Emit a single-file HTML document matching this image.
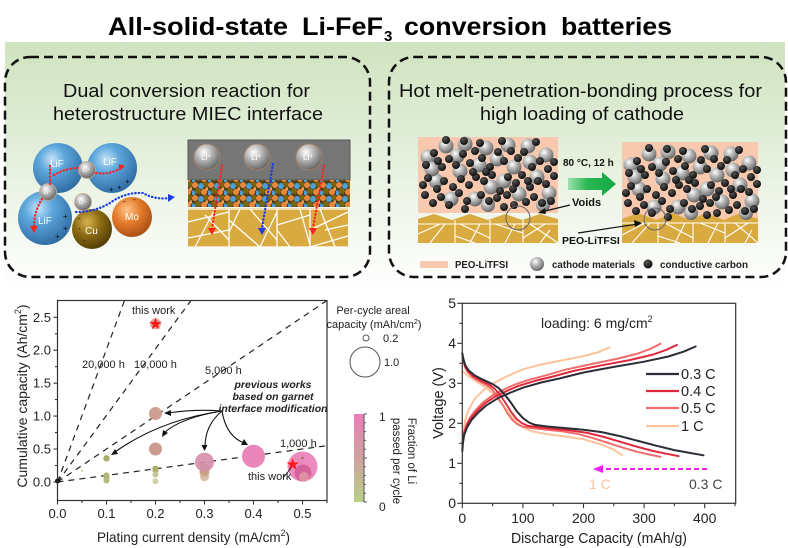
<!DOCTYPE html>
<html><head><meta charset="utf-8"><style>
html,body{margin:0;padding:0;background:#fff;}
svg{display:block;font-family:"Liberation Sans",Arial,sans-serif;}
</style></head><body>
<svg width="788" height="548" viewBox="0 0 788 548" xmlns="http://www.w3.org/2000/svg">
<defs>
<linearGradient id="bg" x1="0" y1="0" x2="0" y2="1"><stop offset="0" stop-color="#cfe3bf"/><stop offset="0.3" stop-color="#dcebd2"/><stop offset="0.65" stop-color="#eef5e9"/><stop offset="1" stop-color="#ffffff"/></linearGradient>
<radialGradient id="gBlue" cx="0.38" cy="0.32" r="0.75"><stop offset="0" stop-color="#c4e3f8"/><stop offset="0.35" stop-color="#5da7dc"/><stop offset="1" stop-color="#2a669e"/></radialGradient>
<radialGradient id="gGrey" cx="0.38" cy="0.32" r="0.75"><stop offset="0" stop-color="#ffffff"/><stop offset="0.4" stop-color="#b8b8b8"/><stop offset="1" stop-color="#5a5a5a"/></radialGradient>
<radialGradient id="gCu" cx="0.38" cy="0.32" r="0.75"><stop offset="0" stop-color="#d8b44e"/><stop offset="0.45" stop-color="#8c6b12"/><stop offset="1" stop-color="#4a3705"/></radialGradient>
<radialGradient id="gMo" cx="0.38" cy="0.32" r="0.75"><stop offset="0" stop-color="#ffc489"/><stop offset="0.45" stop-color="#e47c2c"/><stop offset="1" stop-color="#a24a10"/></radialGradient>
<radialGradient id="gBlk" cx="0.38" cy="0.32" r="0.75"><stop offset="0" stop-color="#555"/><stop offset="1" stop-color="#050505"/></radialGradient>
<linearGradient id="cbar" x1="0" y1="0" x2="0" y2="1"><stop offset="0" stop-color="#ec7db8"/><stop offset="0.5" stop-color="#cfa2a0"/><stop offset="1" stop-color="#b8cf88"/></linearGradient>
<linearGradient id="garrow" x1="0" y1="0" x2="1" y2="0"><stop offset="0" stop-color="#9fe0ae"/><stop offset="0.4" stop-color="#2bb854"/><stop offset="1" stop-color="#16a843"/></linearGradient>
<pattern id="mix" width="16" height="13" patternUnits="userSpaceOnUse">
<rect width="16" height="13" fill="#4d3f18"/>
<circle cx="3" cy="3" r="3" fill="#e8873a"/><circle cx="9" cy="4" r="3" fill="#4b9fd6"/><circle cx="14" cy="2" r="3" fill="#7a6512"/>
<circle cx="6" cy="9" r="3" fill="#7a6512"/><circle cx="12" cy="10" r="3" fill="#e8873a"/><circle cx="1" cy="11" r="2.5" fill="#4b9fd6"/><circle cx="15" cy="7" r="1.8" fill="#f09a50"/>
</pattern>
<path id="star" d="M0,-6.5 L1.53,-2.1 L6.18,-2.01 L2.47,0.8 L3.82,5.26 L0,2.6 L-3.82,5.26 L-2.47,0.8 L-6.18,-2.01 L-1.53,-2.1 Z" fill="#ff1a1a"/>
<g id="parts">
<g fill="url(#gGrey)">
<circle cx="10" cy="20" r="7.5"/><circle cx="28" cy="9" r="7.5"/><circle cx="47" cy="7" r="7.5"/><circle cx="68" cy="11" r="7.5"/><circle cx="90" cy="8" r="7.5"/><circle cx="110" cy="9" r="7.5"/><circle cx="128" cy="18" r="7.5"/><circle cx="18" cy="44" r="7.5"/><circle cx="42" cy="34" r="7.5"/><circle cx="61" cy="28" r="7.5"/><circle cx="96" cy="30" r="7.5"/><circle cx="119" cy="40" r="7.5"/><circle cx="131" cy="56" r="7.5"/><circle cx="33" cy="62" r="7.5"/><circle cx="73" cy="50" r="7.5"/><circle cx="101" cy="57" r="7.5"/><circle cx="57" cy="62" r="7.5"/><circle cx="86" cy="44" r="7.5"/><circle cx="14" cy="32" r="7.5"/><circle cx="79" cy="22" r="7.5"/><circle cx="112" cy="25" r="7.5"/><circle cx="39" cy="19" r="7.5"/><circle cx="125" cy="68" r="7"/><circle cx="70" cy="68" r="7"/>
</g>
<g fill="url(#gBlk)">
<circle cx="8" cy="28" r="4"/><circle cx="16" cy="16" r="4"/><circle cx="24" cy="30" r="4"/><circle cx="31" cy="22" r="4"/><circle cx="38" cy="28" r="4"/><circle cx="45" cy="17" r="4"/><circle cx="52" cy="26" r="4"/><circle cx="57" cy="14" r="4"/><circle cx="64" cy="21" r="4"/><circle cx="72" cy="30" r="4"/><circle cx="80" cy="15" r="4"/><circle cx="86" cy="24" r="4"/><circle cx="93" cy="14" r="4"/><circle cx="100" cy="21" r="4"/><circle cx="106" cy="15" r="4"/><circle cx="114" cy="30" r="4"/><circle cx="122" cy="24" r="4"/><circle cx="130" cy="32" r="4"/><circle cx="10" cy="41" r="4"/><circle cx="19" cy="52" r="4"/><circle cx="26" cy="44" r="4"/><circle cx="35" cy="50" r="4"/><circle cx="43" cy="42" r="4"/><circle cx="51" cy="48" r="4"/><circle cx="58" cy="40" r="4"/><circle cx="66" cy="44" r="4"/><circle cx="74" cy="38" r="4"/><circle cx="82" cy="54" r="4"/><circle cx="90" cy="40" r="4"/><circle cx="98" cy="46" r="4"/><circle cx="104" cy="38" r="4"/><circle cx="112" cy="50" r="4"/><circle cx="120" cy="44" r="4"/><circle cx="128" cy="47" r="4"/><circle cx="136" cy="39" r="4"/><circle cx="7" cy="58" r="4"/><circle cx="15" cy="66" r="4"/><circle cx="23" cy="60" r="4"/><circle cx="31" cy="68" r="4"/><circle cx="41" cy="56" r="4"/><circle cx="49" cy="64" r="4"/><circle cx="63" cy="58" r="4"/><circle cx="71" cy="64" r="4"/><circle cx="79" cy="61" r="4"/><circle cx="89" cy="58" r="4"/><circle cx="96" cy="68" r="4"/><circle cx="108" cy="65" r="4"/><circle cx="116" cy="60" r="4"/><circle cx="124" cy="66" r="4"/><circle cx="133" cy="64" r="4"/><circle cx="46" cy="4" r="4"/><circle cx="62" cy="6" r="4"/><circle cx="84" cy="4" r="4"/><circle cx="118" cy="5" r="4"/><circle cx="28" cy="3" r="4"/><circle cx="5" cy="48" r="4"/><circle cx="55" cy="35" r="4"/><circle cx="136" cy="25" r="4"/><circle cx="47" cy="72" r="4"/><circle cx="86" cy="70" r="4"/><circle cx="20" cy="24" r="4"/><circle cx="68" cy="35" r="4"/><circle cx="110" cy="44" r="4"/><circle cx="95" cy="52" r="4"/>
</g>
</g>
<path id="dis" fill="none" d="M462.3,353.3 L463.5,359.3 L465.3,365.3 L468.4,370.1 L474.4,375.3 L480.5,378.5 L486.5,381.3 L492.6,384.1 L498.7,388.1 L504.7,394.5 L510.8,402.5 L516.8,411.3 L522.9,418.1 L529.0,422.5 L535.0,424.9 L547.1,426.5 L565.3,428.1 L583.5,429.7 L601.7,432.1 L619.9,436.1 L638.0,440.9 L656.2,445.7 L674.4,450.1 L689.6,452.9 L703.5,455.3"/>
<path id="chg" fill="none" d="M462.3,451.3 L462.9,443.3 L464.1,435.3 L467.1,427.3 L471.4,420.1 L477.5,413.3 L486.5,405.3 L498.7,397.7 L510.8,392.5 L522.9,387.7 L541.1,382.5 L559.3,378.5 L583.5,372.5 L613.8,366.9 L644.1,361.7 L668.3,356.5 L683.5,351.7 L695.6,346.5"/>
<path id="dis1" fill="none" d="M462.3,371.3 L468.4,376.1 L474.4,380.1 L480.5,384.1 L486.5,388.1 L492.6,393.3 L498.7,400.1 L504.7,407.3 L510.8,415.3 L516.8,422.5 L522.9,427.3 L532.0,431.3 L547.1,434.1 L565.3,436.5 L583.5,439.3 L601.7,444.5 L613.8,449.7 L622.3,455.3"/>
<path id="chg1" fill="none" d="M462.3,443.3 L463.5,431.3 L465.3,420.1 L468.4,410.1 L474.4,399.3 L483.5,390.1 L492.6,383.7 L504.7,377.3 L522.9,369.3 L541.1,364.5 L559.3,360.9 L583.5,356.1 L598.7,352.1 L609.6,347.3"/>
</defs>

<!-- green background -->
<rect x="5" y="42" width="780" height="248" fill="url(#bg)"/>

<!-- title -->
<g font-weight="bold" font-size="25" fill="#000">
<text x="108" y="35" textLength="180" lengthAdjust="spacingAndGlyphs">All-solid-state</text>
<text x="302" y="35" textLength="81" lengthAdjust="spacingAndGlyphs">Li-FeF</text>
<text x="384" y="41" font-size="15">3</text>
<text x="404" y="35" textLength="143" lengthAdjust="spacingAndGlyphs">conversion</text>
<text x="561" y="35" textLength="111" lengthAdjust="spacingAndGlyphs">batteries</text>
</g>

<!-- dashed boxes -->
<rect x="5" y="57" width="365" height="220" rx="25" ry="25" fill="none" stroke="#111" stroke-width="2.5" stroke-dasharray="9,5"/>
<rect x="389" y="57" width="397" height="220" rx="25" ry="25" fill="none" stroke="#111" stroke-width="2.5" stroke-dasharray="9,5"/>

<!-- box titles -->
<g font-size="18" fill="#111">
<text x="63" y="97" textLength="247" lengthAdjust="spacingAndGlyphs">Dual conversion reaction for</text>
<text x="53" y="120" textLength="270" lengthAdjust="spacingAndGlyphs">heterostructure MIEC interface</text>
<text x="399" y="97" textLength="363" lengthAdjust="spacingAndGlyphs">Hot melt-penetration-bonding process for</text>
<text x="480" y="120" textLength="204" lengthAdjust="spacingAndGlyphs">high loading of cathode</text>
</g>

<!-- LEFT ILLUSTRATION: spheres -->
<circle cx="58" cy="168" r="25" fill="url(#gBlue)"/>
<circle cx="112" cy="168" r="25" fill="url(#gBlue)"/>
<circle cx="45" cy="218" r="27" fill="url(#gBlue)"/>
<circle cx="92" cy="229" r="20" fill="url(#gCu)"/>
<circle cx="132" cy="217" r="20" fill="url(#gMo)"/>
<g fill="url(#gGrey)" stroke="#c9a98c" stroke-width="0.8">
<circle cx="87" cy="170" r="8.5"/><circle cx="48" cy="192" r="8.5"/><circle cx="83" cy="202" r="8.5"/>
</g>
<g fill="#fff" font-size="10">
<text x="50" y="167">LiF</text><text x="103" y="165">LiF</text><text x="38" y="224">LiF</text>
<text x="85" y="234">Cu</text><text x="125" y="220">Mo</text>
</g>
<g fill="#fff" font-size="5.5"><text x="83" y="172">Li⁺</text><text x="44" y="194">Li⁺</text><text x="79" y="204">Li⁺</text></g>
<g font-size="8" fill="#111"><text x="109" y="192">+</text><text x="117" y="190">+</text><text x="125" y="184">+</text><text x="63" y="219">+</text><text x="63" y="231">+</text><text x="55" y="239">+</text>
<text x="78" y="221">-</text><text x="78" y="231">-</text><text x="83" y="243">-</text><text x="123" y="204">-</text><text x="133" y="202">-</text></g>
<g fill="none" stroke="#ff2020" stroke-width="2.2" stroke-linecap="round" stroke-dasharray="0.5,3">
<path d="M50,166 L50,184"/><path d="M42,199 Q34,212 34,226"/><path d="M54,175 Q66,168 79,168"/><path d="M96,173 Q110,175 121,168"/>
</g>
<polygon points="30,226 38,226 34,233" fill="#ff2020"/>
<polygon points="119,164 125,166 119,171" fill="#ff2020"/>
<path d="M76,212 Q95,212 110,203 Q125,192 143,193 Q155,200 170,198" fill="none" stroke="#1a3ee0" stroke-width="2.2" stroke-linecap="round" stroke-dasharray="0.5,3"/>
<polygon points="168,194 175,197 168,202" fill="#1a3ee0"/>

<!-- LEFT BOX right part: interface -->
<rect x="188" y="140" width="162" height="40" fill="#767676" stroke="#555" stroke-width="1"/>
<rect x="188" y="180" width="162" height="27" fill="url(#mix)"/>
<rect x="188" y="208" width="160" height="39" fill="#d9aa3f"/>
<g stroke="#fff" stroke-width="1.3" fill="none">
<path d="M188,209 H348 M229,209 V247 M277,209 V247 M310,209 V247 M188,222 L229,212 M195,247 L215,209 M188,238 L229,230 M229,240 L205,215 M229,220 L260,247 M240,209 L229,232 M250,209 L277,240 M260,247 L277,212 M277,225 L310,215 M290,247 L277,230 M300,209 L310,245 M310,230 L348,212 M320,209 L335,247 M310,247 L348,236 M348,225 L325,230 M188,247 H348"/>
</g>
<g fill="url(#gGrey)" stroke="#b08060" stroke-width="0.8">
<circle cx="207" cy="157" r="13"/><circle cx="257" cy="157" r="13"/><circle cx="309" cy="157" r="13"/>
</g>
<g fill="#fff" font-size="8"><text x="201" y="160">Li⁺</text><text x="251" y="160">Li⁺</text><text x="303" y="160">Li⁺</text></g>
<g fill="none" stroke-width="2.2" stroke-linecap="round" stroke-dasharray="0.5,3">
<path d="M222,166 L212,228" stroke="#ff2020"/><path d="M273,164 L262,228" stroke="#1a3ee0"/><path d="M324,166 L313,228" stroke="#ff2020"/>
</g>
<polygon points="208,228 216,228 212,235" fill="#ff2020"/>
<polygon points="258,228 266,228 262,235" fill="#1a3ee0"/>
<polygon points="309,228 317,228 313,235" fill="#ff2020"/>

<!-- RIGHT ILLUSTRATION -->
<rect x="418" y="137" width="140" height="76" fill="#f8c9ae"/>
<path d="M418,243 V219 L434,214 L452,220 L470,214 L488,220 L505,214 L522,220 L540,214 L558,219 V243 Z" fill="#d9aa3f"/>
<g stroke="#fff" stroke-width="1.1" fill="none">
<path d="M418,224 H558 M455,220 V243 M490,220 V243 M523,220 V243 M418,234 L440,224 M430,243 L445,224 M455,236 L475,243 M460,224 L490,238 M470,243 L480,224 M495,224 L523,233 M505,243 L515,224 M523,238 L545,224 M530,224 L558,243 M540,243 L550,230"/>
</g>
<rect x="622" y="142" width="136" height="80" fill="#f8c9ae"/>
<path d="M622,243 V219 L638,213 L656,220 L672,213 L690,220 L706,213 L724,220 L740,213 L758,219 V243 Z" fill="#d9aa3f"/>
<rect x="622" y="222" width="136" height="21" fill="#d9aa3f"/>
<g stroke="#fff" stroke-width="1.1" fill="none">
<path d="M622,223 H758 M658,223 V243 M693,223 V243 M725,223 V243 M622,235 L645,223 M632,243 L650,223 M658,236 L680,243 M665,223 L693,238 M675,243 L685,223 M700,223 L725,233 M708,243 L718,223 M725,238 L748,223 M735,223 L758,243 M745,243 L752,230"/>
</g>
<use href="#parts" transform="translate(418,137)"/>
<use href="#parts" transform="translate(621,145)"/>
<circle cx="518" cy="218" r="12" fill="none" stroke="#666" stroke-width="1"/>
<circle cx="655" cy="219" r="11" fill="none" stroke="#666" stroke-width="1"/>
<polygon points="568,178 602,178 602,172 616,184 602,196 602,190 568,190" fill="url(#garrow)"/>
<g font-weight="bold" font-size="10" fill="#111">
<text x="563" y="166">80 °C, 12 h</text>
<text x="572" y="206" font-size="11">Voids</text>
<text x="562" y="244" font-size="10.5">PEO-LiTFSI</text>
</g>
<path d="M570,205 L541,212" stroke="#111" stroke-width="1.2"/><polygon points="538,213 545,208 546,214" fill="#111"/>
<path d="M578,233 L638,224" stroke="#111" stroke-width="1.2"/><polygon points="642,223 634,220 635,227" fill="#111"/>
<rect x="420" y="261" width="28" height="7" fill="#f8c9ae"/>
<circle cx="537" cy="264" r="7" fill="url(#gGrey)"/>
<circle cx="648" cy="264" r="4.5" fill="url(#gBlk)"/>
<g font-weight="bold" font-size="10" fill="#222">
<text x="455" y="268" textLength="53" lengthAdjust="spacingAndGlyphs">PEO-LiTFSI</text>
<text x="552" y="268" textLength="83" lengthAdjust="spacingAndGlyphs">cathode materials</text>
<text x="660" y="268" textLength="88" lengthAdjust="spacingAndGlyphs">conductive carbon</text>
</g>

<!-- ================= LEFT CHART ================= -->
<g stroke="#222" stroke-width="1.2" fill="none" stroke-dasharray="6,5">
<line x1="57.5" y1="482" x2="327" y2="445.7"/>
<line x1="57.5" y1="482" x2="327" y2="300.5"/>
<line x1="57.5" y1="482" x2="191" y2="300.5"/>
<line x1="57.5" y1="482" x2="124.5" y2="300.5"/>
</g>
<g>
<circle cx="155.5" cy="323.8" r="5.5" fill="#d8aa9f"/>
<circle cx="155.5" cy="413.5" r="6.5" fill="#cf9f92"/>
<circle cx="155.5" cy="449" r="6.5" fill="#cc9a8e"/>
<circle cx="106.5" cy="458.3" r="3.2" fill="#a9ad6a"/>
<circle cx="106.5" cy="475.4" r="3" fill="#b3b878"/>
<circle cx="106.5" cy="478.5" r="3" fill="#aeb472"/>
<circle cx="106.5" cy="480.5" r="3" fill="#b5bb80"/>
<circle cx="155.5" cy="468.8" r="3.2" fill="#a8ab64"/>
<circle cx="155.5" cy="470.5" r="3" fill="#b0b070"/>
<circle cx="155.5" cy="474.5" r="3" fill="#c8c79c"/>
<circle cx="155.5" cy="481.3" r="3" fill="#d0cfab"/>
<circle cx="82" cy="470.8" r="1" fill="#c8c890"/>
<circle cx="204.5" cy="476.7" r="4.5" fill="#d9c0a8"/>
<circle cx="204.5" cy="472" r="5" fill="#cfa88a"/>
<circle cx="204.5" cy="468.8" r="5" fill="#c4a07e"/>
<circle cx="204.5" cy="462.2" r="9.5" fill="#d58fab" fill-opacity="0.92"/>
<circle cx="253.5" cy="456.2" r="11.5" fill="#ea86b9"/>
<circle cx="302.5" cy="466.5" r="15" fill="#ec8bbd"/>
<circle cx="303" cy="473" r="8.5" fill="#d8629b"/>
<circle cx="304" cy="477" r="5" fill="#dfa6a4" fill-opacity="0.7"/>
<circle cx="302.5" cy="458" r="1.3" fill="#b07050"/>
<circle cx="57.5" cy="481" r="2.5" fill="#111"/>
</g>
<use href="#star" x="155.5" y="324"/>
<use href="#star" x="292.7" y="464.5"/>
<path d="M283,478 L291,468" stroke="#222" stroke-width="1"/>
<g stroke="#111" stroke-width="1.1" fill="none">
<path d="M222,411 Q195,409 168,413"/>
<path d="M222,411 Q160,420 115,452"/>
<path d="M222,411 Q180,418 164,433"/>
<path d="M222,411 Q205,425 205,447"/>
<path d="M222,411 Q226,436 244,443"/>
</g>
<g fill="#111">
<polygon points="164,413 171,410 171,416"/>
<polygon points="111,455 115,449 118,454"/>
<polygon points="162,437 163,430 168,433"/>
<polygon points="204.5,451 201.5,445 207.5,445"/>
<polygon points="248,445 241,445 244,439"/>
</g>
<rect x="57.5" y="300.5" width="269.5" height="200" fill="none" stroke="#333" stroke-width="1.2"/>
<g stroke="#333" stroke-width="1.1">
<path d="M57.5,500.5 v4 M106.5,500.5 v4 M155.5,500.5 v4 M204.5,500.5 v4 M253.5,500.5 v4 M302.5,500.5 v4"/>
<path d="M82,500.5 v2.5 M131,500.5 v2.5 M180,500.5 v2.5 M229,500.5 v2.5 M278,500.5 v2.5 M327,500.5 v2.5"/>
<path d="M57.5,482 h-4 M57.5,449 h-4 M57.5,416.1 h-4 M57.5,383.2 h-4 M57.5,350.2 h-4 M57.5,317.3 h-4"/>
<path d="M57.5,465.5 h-2.5 M57.5,432.6 h-2.5 M57.5,399.6 h-2.5 M57.5,366.7 h-2.5 M57.5,333.8 h-2.5"/>
</g>
<g font-size="13" fill="#222" text-anchor="end">
<text x="51" y="486.5">0.0</text><text x="51" y="453.5">0.5</text><text x="51" y="420.6">1.0</text><text x="51" y="387.7">1.5</text><text x="51" y="354.7">2.0</text><text x="51" y="321.8">2.5</text>
</g>
<g font-size="13" fill="#222" text-anchor="middle">
<text x="57.5" y="518">0.0</text><text x="106.5" y="518">0.1</text><text x="155.5" y="518">0.2</text><text x="204.5" y="518">0.3</text><text x="253.5" y="518">0.4</text><text x="302.5" y="518">0.5</text>
</g>
<text x="97" y="542" font-size="14" fill="#222" textLength="193" lengthAdjust="spacingAndGlyphs">Plating current density (mA/cm<tspan font-size="9" dy="-6">2</tspan><tspan dy="6">)</tspan></text>
<text transform="rotate(-90 27 396)" x="27" y="396" font-size="14" fill="#222" text-anchor="middle">Cumulative capacity (Ah/cm<tspan font-size="9" dy="-6">2</tspan><tspan dy="6">)</tspan></text>
<g font-size="11" fill="#222">
<text x="132" y="314">this work</text>
<text x="248" y="480">this work</text>
<text x="82" y="368">20,000 h</text>
<text x="134" y="368">10,000 h</text>
<text x="205" y="374">5,000 h</text>
<text x="280" y="447">1,000 h</text>
</g>
<g font-size="10.5" font-weight="bold" font-style="italic" fill="#222" text-anchor="middle">
<text x="273" y="388">previous works</text>
<text x="273" y="400">based on garnet</text>
<text x="273" y="412">interface modification</text>
</g>
<g font-size="11" fill="#222">
<text x="373" y="314" text-anchor="middle">Per-cycle areal</text>
<text x="374" y="328" text-anchor="middle">capacity (mAh/cm<tspan font-size="7" dy="-4">2</tspan><tspan dy="4">)</tspan></text>
<text x="383" y="342">0.2</text>
<text x="384" y="366">1.0</text>
</g>
<circle cx="366" cy="338" r="3" fill="none" stroke="#555" stroke-width="1"/>
<circle cx="365" cy="362" r="15" fill="none" stroke="#555" stroke-width="1"/>
<rect x="354" y="414" width="10" height="88" fill="url(#cbar)"/>
<g stroke="#555" stroke-width="1">
<path d="M364,414 V502 M364,414 h3 M364,502 h3 M364,422.8 h2 M364,431.6 h2 M364,440.4 h2 M364,449.2 h2 M364,458 h3 M364,466.8 h2 M364,475.6 h2 M364,484.4 h2 M364,493.2 h2"/>
</g>
<g font-size="12" fill="#222"><text x="379" y="421">1</text><text x="379" y="511">0</text></g>
<text transform="rotate(90 408 451)" x="408" y="451" font-size="11.5" fill="#222" text-anchor="middle">Fraction of Li</text>
<text transform="rotate(90 393 461)" x="393" y="461" font-size="11.5" fill="#222" text-anchor="middle">passed per cycle</text>

<!-- ================= RIGHT CHART ================= -->
<g fill="none" stroke-width="2" stroke-linejoin="round" stroke-linecap="round">
<use href="#dis1" stroke="#fcc39c"/>
<use href="#chg1" stroke="#fcc39c"/>
<g transform="translate(462.3,1.6) scale(0.822,1) translate(-462.3,0)"><use href="#dis" stroke="#f26a6a"/></g>
<g transform="translate(462.3,-2.8) scale(0.85,1) translate(-462.3,0)"><use href="#chg" stroke="#f26a6a"/></g>
<g transform="translate(462.3,0.8) scale(0.897,1) translate(-462.3,0)"><use href="#dis" stroke="#e0283c"/></g>
<g transform="translate(462.3,-1.6) scale(0.92,1) translate(-462.3,0)"><use href="#chg" stroke="#e0283c"/></g>
<use href="#dis" stroke="#2a2e35"/>
<use href="#chg" stroke="#2a2e35"/>
</g>
<rect x="462.3" y="303.3" width="273.4" height="200" fill="none" stroke="#333" stroke-width="1.2"/>
<g stroke="#333" stroke-width="1.1">
<path d="M462.3,503.3 h-5 M462.3,463.3 h-5 M462.3,423.3 h-5 M462.3,383.3 h-5 M462.3,343.3 h-5 M462.3,303.3 h-5"/>
<path d="M462.3,483.3 h-3 M462.3,443.3 h-3 M462.3,403.3 h-3 M462.3,363.3 h-3 M462.3,323.3 h-3"/>
<path d="M462.3,503.3 v5 M522.9,503.3 v5 M583.5,503.3 v5 M644.1,503.3 v5 M704.7,503.3 v5"/>
<path d="M492.6,503.3 v3 M553.2,503.3 v3 M613.8,503.3 v3 M674.4,503.3 v3 M735,503.3 v3"/>
</g>
<g font-size="14" fill="#222" text-anchor="end">
<text x="456" y="508">0</text><text x="456" y="468">1</text><text x="456" y="428">2</text><text x="456" y="388">3</text><text x="456" y="348">4</text><text x="456" y="308">5</text>
</g>
<g font-size="14" fill="#222" text-anchor="middle">
<text x="462.3" y="523">0</text><text x="522.9" y="523">100</text><text x="583.5" y="523">200</text><text x="644.1" y="523">300</text><text x="704.7" y="523">400</text>
</g>
<text x="511" y="543" font-size="14.5" fill="#222" textLength="176" lengthAdjust="spacingAndGlyphs">Discharge Capacity (mAh/g)</text>
<text transform="rotate(-90 443 403)" x="443" y="403" font-size="14.5" fill="#222" text-anchor="middle">Voltage (V)</text>
<text x="541" y="328" font-size="14" fill="#222">loading: 6 mg/cm<tspan font-size="9" dy="-6">2</tspan></text>
<g stroke-width="2.2">
<line x1="646" y1="374" x2="679" y2="374" stroke="#2a2e35"/>
<line x1="646" y1="391" x2="679" y2="391" stroke="#e0283c"/>
<line x1="646" y1="408" x2="679" y2="408" stroke="#f26a6a"/>
<line x1="646" y1="426" x2="679" y2="426" stroke="#fcc39c"/>
</g>
<g font-size="14.5" fill="#222">
<text x="681" y="379">0.3 C</text><text x="681" y="396">0.4 C</text><text x="681" y="413">0.5 C</text><text x="681" y="431">1 C</text>
</g>
<line x1="707" y1="469" x2="601" y2="469" stroke="#f020f0" stroke-width="2" stroke-dasharray="5,3"/>
<polygon points="593,469 603,465 603,473" fill="#f020f0"/>
<text x="589" y="489" font-size="14" fill="#fcc39c">1 C</text>
<text x="689" y="489" font-size="14" fill="#444">0.3 C</text>
</svg>
</body></html>
